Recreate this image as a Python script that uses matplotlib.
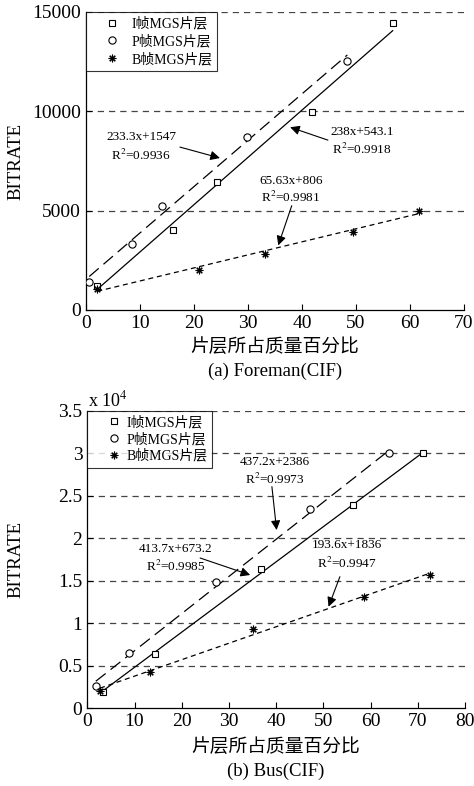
import matplotlib
matplotlib.use("Agg")
import matplotlib.pyplot as plt
import numpy as np
from matplotlib.ticker import FuncFormatter

plt.rcParams['font.family'] = ['Liberation Serif', 'Noto Sans CJK SC']
plt.rcParams['mathtext.fontset'] = 'stix'

# ---- data: Foreman(CIF) ----
fm_i_x = [2.0, 16.2, 24.2, 41.8, 56.8]
fm_i_y = [1200, 4050, 6450, 9950, 14450]
fm_p_x = [0.6, 8.5, 14.0, 29.9, 48.4]
fm_p_y = [1400, 3330, 5230, 8700, 12550]
fm_b_x = [2.1, 21.0, 33.1, 49.5, 61.7]
fm_b_y = [1080, 2000, 2830, 3920, 4980]
fm_fit = {'I': (238.0, 543.1), 'P': (233.3, 1547), 'B': (65.63, 806)}

# ---- data: Bus(CIF) ----
bus_i_x = [3.3, 14.3, 36.8, 56.2, 71.1]
bus_i_y = [1940, 6380, 16340, 23900, 30000]
bus_p_x = [1.8, 8.9, 27.3, 47.2, 63.8]
bus_p_y = [2610, 6460, 14900, 23440, 30000]
bus_b_x = [2.7, 13.3, 35.2, 58.7, 72.5]
bus_b_y = [2020, 4300, 9320, 13120, 15630]
bus_fit = {'I': (413.7, 673.2), 'P': (437.2, 2386), 'B': (193.6, 1836)}

legend_labels = ['I帧MGS片层', 'P帧MGS片层', 'B帧MGS片层']
xlabel = '片层所占质量百分比'

fig = plt.figure(figsize=(4.74, 7.86), dpi=100)
ax1 = fig.add_axes([86/474, 1-310/786, 378/474, 298/786])
ax2 = fig.add_axes([87.3/474, 1-708.2/786, 377.7/474, 297.5/786])

ast = (8, 2, 0)

def draw(ax, ix, iy, px, py, bx, by, fit, tpad, lspace):
    for xs, key, ls in [(ix, 'I', '-'), (px, 'P', (0, (10, 5))), (bx, 'B', (0, (4, 3)))]:
        xx = np.array([min(xs), max(xs)])
        k, b = fit[key]
        ax.plot(xx, k*xx+b, color='black', lw=0.9, linestyle=ls, zorder=3)
    ax.plot(ix, iy, linestyle='none', marker='s', ms=5, mfc='white', mec='black', mew=0.8,
            label=legend_labels[0], zorder=4)
    ax.plot(px, py, linestyle='none', marker='o', ms=5.2, mfc='white', mec='black', mew=0.8,
            label=legend_labels[1], zorder=4)
    ax.plot(bx, by, linestyle='none', marker=ast, ms=5.5, color='black', mew=0.8,
            label=legend_labels[2], zorder=4)
    for s in ['top', 'right']:
        ax.spines[s].set_visible(False)
    ax.spines['left'].set_linewidth(0.9)
    ax.spines['bottom'].set_linewidth(0.9)
    ax.tick_params(direction='in', labelsize=14, length=4, width=0.8)
    leg = ax.legend(loc='upper left', bbox_to_anchor=(0, 1), borderaxespad=0,
                    fontsize=10, frameon=True, fancybox=False, edgecolor='black',
                    handletextpad=tpad, handlelength=3.1, borderpad=0.35, labelspacing=lspace)
    leg.get_frame().set_linewidth(0.8)
    leg.set_zorder(5)

def grid(ax, vals):
    for v in vals:
        ax.axhline(v, color='#444444', lw=0.9, linestyle=(0, (5, 4)), zorder=1)

def arrow(ax, start, tip):
    ax.annotate('', xy=tip, xytext=start,
                arrowprops=dict(arrowstyle='-|>', color='black', lw=0.8, mutation_scale=14,
                                shrinkA=0, shrinkB=0), zorder=6)

def eq(ax, x, y1, y2, t1, t2):
    ax.text(x, y1, t1, ha='center', va='center', fontsize=9.5, zorder=6)
    ax.text(x, y2, t2, ha='center', va='center', fontsize=9.5, zorder=6)

def labels(ax, caption, yx, xl_y, cap_y):
    ax.text(0.5, xl_y, xlabel, transform=ax.transAxes, ha='center', va='center', fontsize=13.5)
    ax.text(0.5, cap_y, caption, transform=ax.transAxes, ha='center', va='center', fontsize=13.5)
    ax.text(yx, 0.5, 'BITRATE', transform=ax.transAxes, ha='center', va='center',
            rotation=90, fontsize=13.5)

# ---- top ----
draw(ax1, fm_i_x, fm_i_y, fm_p_x, fm_p_y, fm_b_x, fm_b_y, fm_fit, -0.2, 0.3)
ax1.set_xlim(0, 70)
ax1.set_ylim(0, 15000)
ax1.set_xticks(range(0, 71, 10))
ax1.set_yticks([0, 5000, 10000, 15000])
grid(ax1, [5000, 10000, 15000])
eq(ax1, 10.2, 8700, 7800, '233.3x+1547', 'R$^2$=0.9936')
arrow(ax1, (17.4, 8200), (24.8, 7650))
eq(ax1, 51.1, 8950, 8100, '238x+543.1', 'R$^2$=0.9918')
arrow(ax1, (44.8, 8550), (37.8, 9200))
eq(ax1, 38.0, 6500, 5650, '65.63x+806', 'R$^2$=0.9981')
arrow(ax1, (38.1, 5250), (35.6, 3250))
labels(ax1, '(a) Foreman(CIF)', -0.185, -0.123, -0.207)

# ---- bottom ----
draw(ax2, bus_i_x, bus_i_y, bus_p_x, bus_p_y, bus_b_x, bus_b_y, bus_fit, -0.63, 0.22)
ax2.set_xlim(0, 80)
ax2.set_ylim(0, 35000)
ax2.set_xticks(range(0, 81, 10))
ax2.set_yticks(np.arange(0, 35001, 5000))
ax2.yaxis.set_major_formatter(FuncFormatter(lambda v, p: '%g' % (v/1e4)))
grid(ax2, np.arange(5000, 35001, 5000))
eq(ax2, 39.8, 29000, 26930, '437.2x+2386', 'R$^2$=0.9973')
arrow(ax2, (39.1, 26060), (40.1, 20960))
eq(ax2, 18.8, 18690, 16650, '413.7x+673.2', 'R$^2$=0.9985')
arrow(ax2, (23.9, 17670), (34.5, 15670))
eq(ax2, 55.0, 19200, 17050, '193.6x+1836', 'R$^2$=0.9947')
arrow(ax2, (53.5, 15470), (51.1, 11940))
ax2.text(0.002, 1.036, 'x 10$^4$', transform=ax2.transAxes, ha='left', va='center', fontsize=13)
labels(ax2, '(b) Bus(CIF)', -0.19, -0.129, -0.211)

fig.savefig('out.png', dpi=100)
